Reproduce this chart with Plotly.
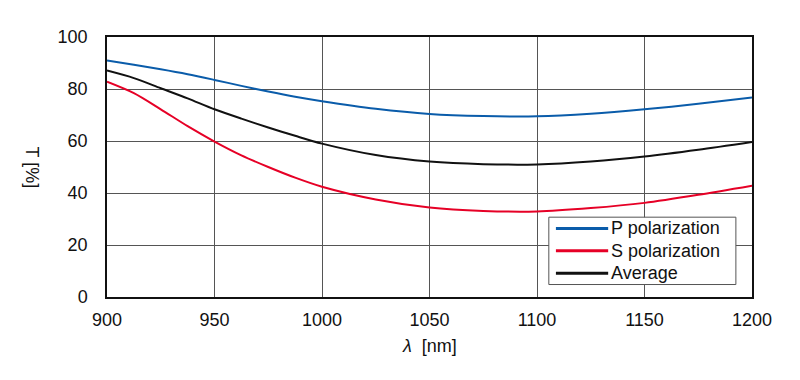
import plotly.graph_objects as go

wavelength = [900, 912.5, 925, 937.5, 950, 962.5, 975, 987.5, 1000, 1025, 1050, 1075, 1100, 1125, 1150, 1175, 1200]
p_pol = [91.0, 89.3, 87.6, 85.7, 83.5, 81.2, 79.0, 77.0, 75.3, 72.4, 70.4, 69.6, 69.5, 70.5, 72.2, 74.3, 76.7]
s_pol = [82.8, 78.4, 72.2, 65.7, 59.8, 54.5, 50.0, 45.9, 42.4, 37.5, 34.4, 33.1, 32.9, 34.2, 36.2, 39.3, 42.8]
average = [87.1, 84.2, 80.3, 76.4, 72.2, 68.6, 65.2, 62.0, 59.0, 54.6, 52.1, 51.1, 51.0, 52.1, 54.0, 56.6, 59.6]

series_names = ["P polarization", "S polarization", "Average"]
series_colors = ["#0a5caa", "#e60026", "#111111"]
series_values = [p_pol, s_pol, average]

x_ticks = [900, 950, 1000, 1050, 1100, 1150, 1200]
y_ticks = [0, 20, 40, 60, 80, 100]

FONT = "Liberation Sans, Arial, Helvetica, sans-serif"

fig = go.Figure()
for name, color, vals in zip(series_names, series_colors, series_values):
    fig.add_trace(go.Scatter(x=wavelength, y=vals, mode="lines", name=name,
                             line=dict(color=color, width=2, shape="spline", smoothing=0.8),
                             showlegend=False, hoverinfo="x+y+name"))

# custom legend (long line samples as in the reference)
lx0, lx1 = 0.685, 0.975
ly1, ly0 = 0.307, 0.048
shapes = [dict(type="rect", xref="paper", yref="paper", x0=lx0, x1=lx1, y0=ly0, y1=ly1,
               line=dict(color="#555555", width=1), fillcolor="white", layer="above")]
annotations = []
row_h = (ly1 - ly0) / 3
for i, (name, color) in enumerate(zip(series_names, series_colors)):
    yc = ly1 - row_h * (i + 0.5)
    shapes.append(dict(type="line", xref="paper", yref="paper", x0=0.696, x1=0.777, y0=yc, y1=yc,
                       line=dict(color=color, width=3), layer="above"))
    annotations.append(dict(xref="paper", yref="paper", x=0.779, y=yc, text=name, showarrow=False,
                            xanchor="left", yanchor="middle", font=dict(size=18, color="#111", family=FONT)))

annotations.append(dict(xref="paper", yref="paper", x=0.5, y=-0.19, text="<i>λ</i>  [nm]", showarrow=False,
                        xanchor="center", yanchor="middle", font=dict(size=18, color="#111", family=FONT)))
annotations.append(dict(xref="paper", yref="paper", x=-0.117, y=0.5, text="T [%]", showarrow=False, textangle=90,
                        xanchor="center", yanchor="middle", font=dict(size=18, color="#111", family=FONT)))

# page body has an 8px default margin, so the figure is sized/offset to compensate
fig.update_layout(
    width=792, height=372,
    margin=dict(l=99, r=48, t=29, b=83),
    paper_bgcolor="white", plot_bgcolor="white",
    font=dict(family=FONT, size=18, color="#111"),
    shapes=shapes, annotations=annotations,
    showlegend=False,
)
fig.update_xaxes(range=[900, 1200], tickvals=x_ticks, ticks="", ticklabelstandoff=6, automargin=False,
                 showgrid=True, gridcolor="#555555", gridwidth=1,
                 showline=True, linecolor="#111111", linewidth=1.5, mirror=True, zeroline=False)
fig.update_yaxes(range=[0, 100], tickvals=y_ticks, ticks="", ticklabelstandoff=14, automargin=False,
                 showgrid=True, gridcolor="#555555", gridwidth=1,
                 showline=True, linecolor="#111111", linewidth=1.5, mirror=True, zeroline=False)

fig.write_html("out.html")
